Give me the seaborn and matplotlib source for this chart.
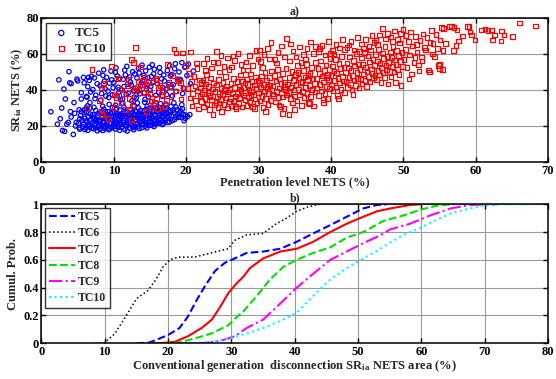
import numpy as np
import matplotlib
matplotlib.use("Agg")
import matplotlib.pyplot as plt
import seaborn as sns

# ---- a) scatter: penetration level NETS (%) vs SR_ia NETS (%) ----
tc5_pts = [
    (1.3, 27.9), (2.2, 21.0), (2.4, 45.6), (2.6, 24.0), (2.8, 30.0), (2.9, 17.5), (3.1, 40.5), (3.2, 17.0),
    (3.3, 35.0), (3.5, 21.0), (3.7, 22.0), (3.8, 50.2), (3.9, 44.0), (4.1, 43.5), (4.4, 15.3), (4.1, 25.0),
    (4.0, 28.0), (4.5, 33.0), (4.6, 27.0), (4.7, 20.0), (4.8, 22.0), (4.9, 46.0), (5.0, 45.0), (5.2, 19.0),
    (5.3, 24.0), (5.5, 28.0), (5.5, 35.0), (5.8, 47.0), (5.9, 29.0), (6.0, 18.0), (6.2, 30.0), (6.3, 36.0),
    (6.4, 20.0), (6.5, 47.0), (6.7, 33.0),
    (5.1, 21.5), (5.3, 18.2), (5.4, 25.8), (5.6, 23.1), (5.7, 19.6), (5.9, 27.4), (5.2, 29.0), (5.8, 21.0),
    (5.5, 38.5), (5.9, 44.0),
    (6.0, 24.2), (6.1, 19.0), (6.2, 27.7), (6.3, 22.4), (6.4, 17.6), (6.5, 25.1), (6.6, 20.8), (6.7, 29.9),
    (6.8, 23.5), (6.9, 18.9), (6.35, 31.2), (6.2, 36.4), (6.4, 41.8), (6.6, 45.3), (6.8, 38.9), (6.9, 47.6),
    (7.0, 21.7), (7.1, 26.3), (7.2, 18.4), (7.3, 24.0), (7.4, 20.2), (7.5, 28.6), (7.6, 22.9), (7.7, 17.3),
    (7.8, 25.7), (7.9, 19.8), (7.25, 30.4), (7.65, 23.7), (7.1, 40.2), (7.3, 46.7), (7.5, 37.1), (7.7, 43.5),
    (7.9, 49.3), (7.4, 35.2),
    (8.0, 22.5), (8.1, 18.1), (8.2, 27.2), (8.3, 20.6), (8.4, 24.8), (8.5, 17.5), (8.6, 29.3), (8.7, 21.9),
    (8.8, 26.0), (8.9, 19.4), (8.15, 23.3), (8.45, 31.0), (8.75, 18.6), (8.95, 24.1), (8.1, 42.3), (8.3, 38.0),
    (8.5, 48.1), (8.7, 44.9), (8.9, 36.6), (8.6, 51.2), (8.2, 34.4), (8.8, 40.7),
    (9.0, 25.4), (9.1, 20.1), (9.2, 28.0), (9.3, 17.9), (9.4, 23.6), (9.5, 21.2), (9.6, 26.9), (9.7, 19.1),
    (9.8, 30.2), (9.9, 22.7), (9.15, 24.5), (9.45, 18.5), (9.75, 25.0), (9.35, 32.0), (9.0, 47.0), (9.2, 39.4),
    (9.4, 43.8), (9.6, 50.5), (9.8, 37.3), (9.3, 35.8), (9.7, 45.6), (9.9, 41.2),
    (10.0, 21.4), (10.1, 27.6), (10.2, 18.3), (10.3, 24.9), (10.4, 29.7), (10.5, 20.5), (10.6, 23.0),
    (10.7, 26.2), (10.8, 17.6), (10.9, 22.1), (10.25, 31.5), (10.55, 25.6), (10.85, 28.8), (10.15, 19.7),
    (10.0, 44.1), (10.2, 49.8), (10.4, 36.9), (10.6, 41.5), (10.8, 46.4), (10.3, 52.3), (10.7, 38.8),
    (10.9, 34.6), (10.5, 47.7),
    (11.0, 24.3), (11.1, 19.2), (11.2, 27.0), (11.3, 22.0), (11.4, 30.4), (11.5, 18.0), (11.6, 25.5),
    (11.7, 21.1), (11.8, 28.2), (11.9, 23.4), (11.25, 32.6), (11.55, 20.3), (11.85, 17.2), (11.45, 26.6),
    (11.1, 40.0), (11.3, 45.9), (11.5, 51.0), (11.7, 37.6), (11.9, 43.2), (11.2, 35.0), (11.6, 48.4),
    (11.8, 53.1), (11.4, 41.9),
    (12.0, 21.8), (12.1, 26.4), (12.2, 18.8), (12.3, 29.1), (12.4, 23.8), (12.5, 20.0), (12.6, 27.7),
    (12.7, 24.6), (12.8, 31.3), (12.9, 19.5), (12.15, 22.9), (12.45, 25.2), (12.75, 17.9), (12.95, 28.4),
    (12.0, 38.2), (12.2, 47.2), (12.4, 42.7), (12.6, 50.1), (12.8, 36.0), (12.3, 44.4), (12.7, 39.7),
    (12.9, 48.9), (12.5, 33.9),
    (13.0, 23.1), (13.1, 27.9), (13.2, 20.7), (13.3, 25.8), (13.4, 30.0), (13.5, 18.6), (13.6, 22.4),
    (13.7, 28.7), (13.8, 24.2), (13.9, 21.3), (13.25, 32.8), (13.55, 26.1), (13.85, 19.0), (13.45, 23.9),
    (13.0, 41.0), (13.2, 46.6), (13.4, 52.0), (13.6, 37.9), (13.8, 44.0), (13.1, 35.5), (13.5, 49.4),
    (13.7, 42.2), (13.9, 53.8), (13.3, 39.1),
    (14.0, 25.0), (14.1, 21.0), (14.2, 28.5), (14.3, 19.8), (14.4, 26.7), (14.5, 23.2), (14.6, 30.8),
    (14.7, 20.4), (14.8, 27.3), (14.9, 24.4), (14.25, 33.2), (14.55, 18.9), (14.85, 29.6), (14.15, 22.6),
    (14.0, 45.2), (14.2, 38.4), (14.4, 50.6), (14.6, 43.0), (14.8, 36.2), (14.1, 48.0), (14.5, 40.6),
    (14.9, 52.7), (14.3, 34.8), (14.7, 46.9),
    (15.0, 26.5), (15.1, 22.2), (15.2, 29.4), (15.3, 24.0), (15.4, 20.6), (15.5, 27.8), (15.6, 31.6),
    (15.7, 23.5), (15.8, 25.9), (15.9, 21.6), (15.25, 33.5), (15.55, 19.7), (15.85, 28.9),
    (15.0, 39.8), (15.2, 47.5), (15.4, 44.3), (15.6, 51.5), (15.8, 37.0), (15.1, 42.0), (15.5, 49.0),
    (15.9, 45.4), (15.3, 54.0),
    (16.0, 24.7), (16.1, 28.1), (16.2, 21.5), (16.3, 30.3), (16.4, 26.2), (16.5, 23.3), (16.6, 29.0),
    (16.7, 20.8), (16.8, 27.4), (16.9, 25.3), (16.45, 32.4), (16.75, 22.5),
    (16.0, 43.6), (16.2, 38.6), (16.4, 49.7), (16.6, 46.2), (16.8, 41.3), (16.3, 52.4), (16.7, 36.5),
    (16.9, 48.3),
    (17.0, 26.8), (17.1, 23.0), (17.3, 29.8), (17.4, 25.1), (17.6, 27.9), (17.7, 22.2), (17.9, 30.9),
    (17.5, 24.3), (17.2, 32.2), (17.0, 45.0), (17.2, 40.4), (17.4, 50.8), (17.6, 43.1), (17.8, 47.9),
    (17.3, 37.4), (17.7, 53.5), (17.9, 41.7),
    (18.0, 25.6), (18.2, 28.7), (18.4, 23.6), (18.6, 30.5), (18.8, 26.4), (18.3, 32.9), (18.9, 24.8),
    (18.0, 48.6), (18.2, 42.9), (18.4, 51.8), (18.6, 39.2), (18.8, 46.0), (18.1, 36.8), (18.5, 54.6),
    (18.9, 44.6),
    (19.1, 27.2), (19.3, 24.9), (19.5, 29.5), (19.7, 22.9), (19.9, 26.0), (20.2, 25.2), (20.5, 26.3),
    (19.4, 31.8), (19.0, 50.0), (19.2, 45.8), (19.4, 55.2), (19.6, 41.0), (19.8, 52.6), (20.1, 48.0),
    (20.3, 54.4), (19.5, 38.0), (20.6, 43.5), (21.0, 50.5),
    # densest part of the lower band
    (6.05, 22.8), (6.55, 19.5), (6.75, 26.6), (7.05, 24.9), (7.35, 21.3), (7.55, 19.0), (7.85, 27.0),
    (7.95, 23.0), (8.05, 20.0), (8.35, 25.6), (8.55, 22.2), (8.65, 19.9), (8.85, 28.0), (9.05, 21.9),
    (9.25, 26.2), (9.55, 23.9), (9.65, 19.5), (9.85, 27.5), (9.95, 20.6), (10.05, 24.0), (10.35, 21.9),
    (10.45, 27.0), (10.65, 19.2), (10.75, 23.5), (10.95, 26.0), (11.05, 20.9), (11.15, 25.0),
    (11.35, 23.1), (11.65, 27.3), (11.75, 19.9), (11.95, 25.9), (12.05, 24.3), (12.25, 21.0),
    (12.35, 26.9), (12.55, 22.6), (12.65, 19.0), (12.85, 25.9), (13.05, 21.2), (13.15, 24.7),
    (13.35, 19.7), (13.65, 27.0), (13.75, 22.9), (13.95, 26.4), (14.05, 23.6), (14.35, 21.7),
    (14.45, 29.2), (14.65, 25.8), (14.75, 22.0), (14.95, 27.9), (15.05, 20.4), (15.15, 25.0),
    (15.35, 28.3), (15.45, 23.0), (15.65, 26.4), (15.75, 21.0), (15.95, 29.9), (16.05, 22.3),
    (16.15, 26.9), (16.35, 24.0), (16.55, 27.8), (16.65, 24.9), (16.85, 21.3), (16.95, 29.5),
    (17.05, 24.1), (17.25, 27.0), (17.45, 22.0), (17.65, 26.0), (17.85, 28.5), (18.1, 23.0),
    (18.35, 27.4), (18.5, 24.9), (18.7, 29.0), (19.0, 25.3), (19.25, 28.4), (19.6, 26.4), (19.85, 24.2),
]

tc10_pts = [
    (6.3, 29.8), (7.0, 51.5), (8.0, 34.0), (8.2, 28.3), (8.3, 26.5), (8.3, 41.2), (8.6, 43.8), (9.3, 24.2),
    (9.7, 53.0), (10.0, 37.2), (10.1, 30.4), (10.4, 35.8), (10.6, 46.5), (11.0, 33.2), (11.3, 37.9),
    (11.6, 29.1), (12.0, 45.8), (12.2, 35.4), (12.4, 23.3), (12.4, 56.8), (12.7, 55.4), (13.0, 63.6),
    (12.6, 31.0), (12.8, 39.6), (13.2, 41.1), (13.5, 40.0), (13.7, 52.8), (13.9, 43.2), (14.2, 47.1),
    (14.5, 28.2), (14.5, 42.5), (14.8, 44.3), (15.0, 38.1), (15.2, 30.3), (15.4, 45.2), (15.6, 33.0),
    (15.8, 46.4), (16.0, 29.5), (16.1, 41.3), (16.4, 42.6), (16.8, 39.0), (17.0, 30.6), (17.3, 34.2),
    (17.4, 54.3), (17.6, 44.1), (17.9, 36.3), (18.1, 48.0), (18.3, 62.7), (18.6, 60.5), (18.9, 45.1),
    (19.2, 44.0), (19.5, 60.6), (19.7, 41.2), (19.9, 53.6), (19.3, 35.0), (18.5, 39.5), (17.8, 42.0),
    (16.6, 37.5), (15.9, 35.2), (14.9, 33.9), (14.1, 38.7), (13.4, 44.7), (11.9, 42.1), (10.8, 40.6),
    (20.2, 40.8), (20.4, 49.2), (20.5, 35.5), (20.7, 44.6), (20.8, 31.2), (20.9, 38.0), (21.1, 47.5),
    (21.2, 42.3), (21.3, 34.0), (21.5, 51.8), (21.6, 39.4), (21.7, 29.5), (21.8, 45.6), (21.9, 36.7),
    (20.6, 61.0), (21.4, 55.0),
    (22.0, 41.2), (22.1, 33.5), (22.2, 37.8), (22.3, 45.1), (22.4, 30.6), (22.5, 39.9), (22.6, 35.3),
    (22.7, 43.4), (22.8, 48.7), (22.9, 32.1), (23.0, 38.6), (23.1, 41.9), (23.2, 29.0), (23.3, 36.0),
    (23.4, 46.6), (23.5, 34.4), (23.6, 40.5), (23.7, 26.3), (23.8, 43.9), (23.9, 31.7), (22.35, 54.8),
    (22.9, 57.5), (23.5, 52.3), (23.8, 55.6), (22.65, 50.9), (23.25, 37.2), (22.15, 44.0),
    (24.0, 39.3), (24.1, 33.0), (24.2, 42.8), (24.3, 36.5), (24.4, 30.1), (24.5, 45.7), (24.6, 38.1),
    (24.7, 34.8), (24.8, 41.0), (24.9, 28.2), (25.0, 37.4), (25.1, 44.2), (25.2, 31.9), (25.3, 39.8),
    (25.4, 47.5), (25.5, 35.6), (25.6, 42.3), (25.7, 30.0), (25.8, 38.9), (25.9, 33.6), (24.35, 55.2),
    (24.8, 59.0), (25.25, 53.0), (25.7, 57.8), (24.6, 50.0), (25.9, 51.4), (24.15, 61.5), (25.45, 40.6),
    (24.55, 32.7),
    (26.0, 40.1), (26.1, 35.2), (26.2, 43.6), (26.3, 31.0), (26.4, 38.4), (26.5, 46.3), (26.6, 33.9),
    (26.7, 41.5), (26.8, 36.6), (26.9, 29.8), (27.0, 44.8), (27.1, 38.0), (27.2, 32.4), (27.3, 42.0),
    (27.4, 35.9), (27.5, 48.3), (27.6, 39.6), (27.7, 30.6), (27.8, 45.0), (27.9, 37.1), (26.25, 52.8),
    (26.7, 56.4), (27.15, 60.1), (27.6, 54.0), (26.45, 58.9), (27.85, 51.2), (26.85, 30.8), (27.35, 40.5),
    (28.0, 41.4), (28.1, 34.5), (28.2, 38.7), (28.3, 46.0), (28.4, 31.4), (28.5, 43.1), (28.6, 36.2),
    (28.7, 40.0), (28.8, 33.0), (28.9, 48.9), (29.0, 39.1), (29.1, 44.6), (29.2, 30.8), (29.3, 37.6),
    (29.4, 42.7), (29.5, 35.0), (29.6, 47.2), (29.7, 40.8), (29.8, 32.7), (29.9, 45.3), (28.25, 55.5),
    (28.75, 59.2), (29.2, 53.7), (29.65, 62.0), (28.5, 51.0), (29.95, 57.3), (28.95, 36.8), (29.45, 29.6),
    (28.15, 43.8),
    (30.0, 38.3), (30.1, 44.0), (30.2, 33.8), (30.3, 41.6), (30.4, 47.8), (30.5, 36.4), (30.6, 30.2),
    (30.7, 43.0), (30.8, 39.5), (30.9, 49.6), (31.0, 35.1), (31.1, 45.5), (31.2, 40.7), (31.3, 32.0),
    (31.4, 38.0), (31.5, 46.9), (31.6, 42.4), (31.7, 34.3), (31.8, 50.5), (31.9, 37.7), (30.3, 55.8),
    (30.75, 59.7), (31.25, 63.0), (31.7, 66.4), (30.55, 52.6), (31.5, 57.1), (30.95, 28.0), (31.15, 41.8),
    (30.15, 62.2),
    (32.0, 42.1), (32.1, 36.9), (32.2, 48.0), (32.3, 33.4), (32.4, 44.9), (32.5, 39.2), (32.6, 51.3),
    (32.7, 35.7), (32.8, 41.0), (32.9, 46.2), (33.0, 30.9), (33.1, 43.7), (33.2, 38.4), (33.3, 49.1),
    (33.4, 36.0), (33.5, 29.7), (33.6, 44.5), (33.7, 40.3), (33.8, 52.0), (33.9, 37.3), (32.25, 57.0),
    (32.7, 60.8), (33.15, 64.5), (33.6, 58.3), (33.9, 68.7), (32.5, 54.9), (33.35, 26.8), (32.85, 31.6),
    (33.55, 41.9),
    (34.0, 43.3), (34.1, 38.6), (34.2, 26.5), (34.3, 47.0), (34.4, 35.4), (34.5, 41.7), (34.6, 50.2),
    (34.7, 32.8), (34.8, 45.4), (34.9, 39.9), (35.0, 36.7), (35.1, 48.5), (35.2, 42.9), (35.3, 33.9),
    (35.4, 53.6), (35.5, 40.1), (35.6, 46.6), (35.7, 37.2), (35.8, 44.0), (35.9, 31.5), (34.25, 56.0),
    (34.75, 61.7), (35.2, 58.4), (35.65, 63.9), (34.45, 65.5), (35.85, 55.1), (34.95, 29.3), (35.45, 49.8),
    (36.0, 44.7), (36.1, 39.0), (36.2, 50.9), (36.3, 35.8), (36.4, 47.3), (36.5, 41.4), (36.6, 54.2),
    (36.7, 37.9), (36.8, 45.9), (36.9, 33.2), (37.0, 42.6), (37.1, 49.0), (37.2, 36.3), (37.3, 52.4),
    (37.4, 40.4), (37.5, 46.1), (37.6, 31.0), (37.7, 43.5), (37.8, 38.8), (37.9, 55.3), (36.25, 59.6),
    (36.7, 63.0), (37.15, 66.6), (37.6, 60.4), (36.45, 57.2), (37.85, 64.1), (37.05, 32.5), (36.85, 48.2),
    (38.0, 46.4), (38.1, 41.1), (38.2, 52.0), (38.3, 37.0), (38.4, 49.3), (38.5, 43.2), (38.6, 56.1),
    (38.7, 39.5), (38.8, 47.7), (38.9, 34.6), (39.0, 44.4), (39.1, 50.7), (39.2, 38.2), (39.3, 53.8),
    (39.4, 42.0), (39.5, 48.5), (39.6, 35.3), (39.7, 45.6), (39.8, 40.8), (39.9, 57.4), (38.25, 61.3),
    (38.75, 64.8), (39.2, 59.5), (39.65, 67.0), (38.45, 62.9), (39.95, 60.1), (38.95, 33.0), (39.35, 47.0),
    (40.0, 48.2), (40.1, 42.7), (40.2, 53.3), (40.3, 39.4), (40.4, 50.6), (40.5, 45.1), (40.6, 57.0),
    (40.7, 41.6), (40.8, 49.4), (40.9, 36.8), (41.0, 46.3), (41.1, 54.8), (41.2, 43.8), (41.3, 51.9),
    (41.4, 40.2), (41.5, 58.7), (41.6, 47.4), (41.7, 44.9), (41.8, 52.6), (41.9, 38.5), (40.25, 61.8),
    (40.7, 65.2), (41.15, 63.3), (41.6, 67.9), (40.45, 60.0), (41.85, 62.5), (41.05, 35.2),
    (42.0, 49.8), (42.1, 44.6), (42.2, 55.0), (42.3, 41.3), (42.4, 52.2), (42.5, 47.0), (42.6, 58.4),
    (42.7, 43.1), (42.8, 50.9), (42.9, 39.9), (43.0, 48.1), (43.1, 56.3), (43.2, 45.5), (43.3, 53.4),
    (43.4, 42.4), (43.5, 60.2), (43.6, 49.6), (43.7, 46.3), (43.8, 54.5), (43.9, 41.0), (42.25, 63.7),
    (42.75, 66.8), (43.2, 62.1), (43.65, 69.2), (42.5, 64.9), (43.95, 61.4), (43.05, 37.6),
    (44.0, 51.4), (44.1, 46.0), (44.2, 57.7), (44.3, 43.4), (44.4, 54.0), (44.5, 48.8), (44.6, 60.9),
    (44.7, 45.2), (44.8, 52.8), (44.9, 42.0), (45.0, 50.0), (45.1, 58.9), (45.2, 47.6), (45.3, 55.6),
    (45.4, 44.5), (45.5, 62.3), (45.6, 51.7), (45.7, 49.1), (45.8, 56.8), (45.9, 46.9), (44.25, 65.6),
    (44.75, 68.0), (45.25, 64.2), (45.7, 70.3), (44.5, 63.0), (45.95, 66.5),
    (46.0, 53.5), (46.1, 47.9), (46.2, 59.6), (46.3, 45.7), (46.4, 56.0), (46.5, 50.8), (46.6, 62.6),
    (46.7, 48.4), (46.8, 54.9), (46.9, 44.1), (47.0, 52.1), (47.1, 60.5), (47.2, 49.7), (47.3, 57.5),
    (47.4, 46.8), (47.5, 64.0), (47.6, 53.9), (47.7, 51.2), (47.8, 58.6), (47.9, 43.3), (46.25, 67.5),
    (46.7, 70.6), (47.1, 74.2), (47.55, 68.4), (46.45, 65.1), (47.85, 71.5),
    (48.0, 55.3), (48.1, 50.2), (48.2, 61.2), (48.3, 47.3), (48.4, 58.0), (48.5, 52.9), (48.6, 64.3),
    (48.7, 49.9), (48.8, 56.7), (48.9, 44.0), (49.0, 54.0), (49.1, 62.0), (49.2, 51.5), (49.3, 59.1),
    (49.4, 48.6), (49.5, 66.0), (49.6, 55.8), (49.7, 42.5), (49.8, 60.7), (49.9, 53.0), (48.3, 69.5),
    (48.75, 72.8), (49.2, 68.1), (49.6, 71.3), (48.5, 67.0), (49.95, 73.6),
    (50.1, 57.0), (50.3, 62.6), (50.5, 52.4), (50.7, 66.8), (50.9, 59.4), (51.1, 48.9), (51.3, 64.4),
    (51.5, 55.2), (51.7, 69.7), (51.9, 61.0), (52.1, 53.8), (52.3, 67.4), (52.5, 58.3), (52.7, 71.0),
    (52.9, 63.5), (50.4, 70.2), (51.0, 72.3), (51.6, 57.9), (52.2, 50.6), (52.6, 56.0), (50.8, 46.0),
    (51.8, 65.1),
    (53.1, 62.1), (53.3, 69.0), (53.5, 51.0), (53.6, 50.0), (53.9, 72.9), (54.1, 65.8), (54.3, 58.6),
    (54.5, 70.8), (54.7, 63.2), (54.9, 53.6), (55.0, 52.0), (55.1, 67.7), (55.3, 74.6), (55.6, 74.2),
    (55.8, 65.9), (54.0, 60.0), (53.7, 66.3), (55.5, 61.8), (55.0, 54.5), (55.4, 51.5),
    (56.4, 75.2), (56.7, 75.6), (56.9, 62.0), (57.0, 74.6), (57.4, 73.4), (57.6, 67.2), (58.2, 70.0),
    (58.9, 75.2), (59.1, 75.1), (59.2, 72.3), (59.4, 70.5), (59.9, 67.7), (57.3, 64.7),
    (60.8, 73.3), (61.3, 73.8), (61.7, 73.0), (62.2, 73.3), (62.3, 67.8), (62.6, 70.5), (63.6, 72.8),
    (63.9, 70.5), (63.5, 67.3), (65.1, 69.8), (66.1, 77.2), (68.3, 75.6),
]

# ---- b) cumulative probability of conventional generation disconnection ----
tc5_cdf_x = [15.0, 17.0, 18.4, 20.0, 21.8, 23.1, 24.5, 25.8, 27.4, 29.0, 30.5, 32.4, 35.0, 37.7, 40.3,
             42.9, 45.6, 48.2, 50.8, 53.0, 54.5]
tc5_cdf_p = [0, 0.005, 0.03, 0.06, 0.11, 0.19, 0.31, 0.41, 0.52, 0.58, 0.61, 0.65, 0.66, 0.68, 0.73,
             0.79, 0.85, 0.91, 0.97, 0.995, 1.0]
tc6_cdf_x = [8.5, 10.0, 11.6, 13.4, 15.0, 16.8, 18.1, 19.2, 20.3, 21.6, 24.2, 26.8, 29.5, 30.5, 32.4,
             35.0, 37.1, 38.7, 40.3, 42.0, 44.0]
tc6_cdf_p = [0, 0.005, 0.07, 0.2, 0.32, 0.38, 0.46, 0.55, 0.60, 0.62, 0.62, 0.65, 0.68, 0.74, 0.78,
             0.79, 0.86, 0.90, 0.95, 0.98, 1.0]
tc7_cdf_x = [17.0, 19.0, 21.0, 23.1, 25.3, 26.9, 28.2, 29.5, 30.8, 31.9, 32.9, 35.0, 37.7, 40.3, 42.9,
             45.6, 48.2, 50.8, 53.0, 55.1, 58.2, 60.0]
tc7_cdf_p = [0, 0.002, 0.01, 0.05, 0.11, 0.17, 0.26, 0.36, 0.43, 0.48, 0.54, 0.61, 0.66, 0.68, 0.73,
             0.80, 0.86, 0.91, 0.95, 0.97, 0.995, 1.0]
tc8_cdf_x = [19.2, 21.6, 24.2, 26.8, 29.5, 31.1, 31.9, 34.0, 36.1, 38.2, 40.3, 42.9, 45.6, 48.2, 50.8,
             53.2, 54.0, 57.2, 59.8, 62.4, 65.0]
tc8_cdf_p = [0, 0.005, 0.035, 0.07, 0.13, 0.2, 0.23, 0.34, 0.46, 0.55, 0.60, 0.65, 0.69, 0.76, 0.80,
             0.86, 0.88, 0.92, 0.96, 0.99, 1.0]
tc9_cdf_x = [21.5, 25.8, 28.4, 30.5, 32.4, 35.0, 37.1, 40.3, 42.9, 45.6, 48.2, 50.8, 53.2, 55.1, 58.2,
             61.4, 64.6, 67.7, 70.0, 72.0]
tc9_cdf_p = [0, 0.002, 0.02, 0.05, 0.11, 0.17, 0.26, 0.40, 0.50, 0.60, 0.66, 0.72, 0.77, 0.82, 0.86,
             0.92, 0.97, 0.995, 0.999, 1.0]
tc10_cdf_x = [23.0, 27.0, 29.7, 32.4, 35.0, 37.7, 40.3, 42.9, 45.6, 48.2, 50.8, 53.2, 54.5, 57.2, 59.8,
              62.4, 65.0, 67.7, 70.4, 72.5, 77.7]
tc10_cdf_p = [0, 0.01, 0.035, 0.07, 0.11, 0.16, 0.22, 0.34, 0.46, 0.54, 0.61, 0.67, 0.71, 0.78, 0.83,
              0.89, 0.94, 0.97, 0.995, 1.0, 1.0]

# ---- style (MATLAB-like figure) ----
sns.set_theme(style="ticks")
plt.rcParams['font.family'] = ['Liberation Serif', 'DejaVu Serif']
plt.rcParams['font.weight'] = 'bold'
plt.rcParams['axes.labelweight'] = 'bold'
plt.rcParams['mathtext.fontset'] = 'custom'
plt.rcParams['mathtext.rm'] = 'Liberation Serif:bold'
plt.rcParams['mathtext.it'] = 'Liberation Serif:bold'
plt.rcParams['mathtext.bf'] = 'Liberation Serif:bold'


def style_axes(ax):
    ax.grid(True, color='#9a9a9a', linewidth=0.8, linestyle='-')
    ax.set_axisbelow(True)
    for sp in ax.spines.values():
        sp.set_visible(True)
        sp.set_color('black')
        sp.set_linewidth(1.1)
    ax.tick_params(direction='in', length=3.5, width=1.0, top=True, right=True,
                   labelsize=9, colors='black', pad=2)
    for lab in ax.get_xticklabels() + ax.get_yticklabels():
        lab.set_fontweight('bold')


fig = plt.figure(figsize=(5.56, 3.79), dpi=100)
ax1 = fig.add_axes([0.0746, 0.5726, 0.911, 0.38])
ax2 = fig.add_axes([0.0746, 0.0942, 0.911, 0.3668])

tc5 = np.array(tc5_pts)
tc10 = np.array(tc10_pts)
sns.scatterplot(x=tc5[:, 0], y=tc5[:, 1], ax=ax1, marker='o', s=10, facecolors='none',
                edgecolor='#0000ff', linewidth=0.9, label='TC5')
sns.scatterplot(x=tc10[:, 0], y=tc10[:, 1], ax=ax1, marker='s', s=11, facecolors='none',
                edgecolor='#ff0000', linewidth=0.9, label='TC10')
ax1.set_xlim(0, 70)
ax1.set_ylim(0, 80)
ax1.set_xticks(range(0, 71, 10))
ax1.set_yticks(range(0, 81, 20))
style_axes(ax1)
ax1.set_title('a)', fontsize=8.5, fontweight='bold', pad=2)
ax1.set_xlabel('Penetration level NETS (%)', fontsize=9, labelpad=0)
ax1.set_ylabel('SR$_{\\rm ia}$ NETS (%)', fontsize=9, labelpad=1)
leg1 = ax1.legend(loc='upper left', fontsize=9.5, frameon=True, fancybox=False, edgecolor='black',
                  handletextpad=0.2, labelspacing=0.25, borderpad=0.35, borderaxespad=0.35,
                  handlelength=1.6, markerscale=1.2)
leg1.get_frame().set_linewidth(1.0)
for t in leg1.get_texts():
    t.set_fontweight('bold')

cdf_series = [
    ('TC5', tc5_cdf_x, tc5_cdf_p, '#0000ff', '--', 1.5),
    ('TC6', tc6_cdf_x, tc6_cdf_p, '#000000', ':', 1.1),
    ('TC7', tc7_cdf_x, tc7_cdf_p, '#ff0000', '-', 1.5),
    ('TC8', tc8_cdf_x, tc8_cdf_p, '#00e000', '--', 1.5),
    ('TC9', tc9_cdf_x, tc9_cdf_p, '#ff00ff', '-.', 1.5),
    ('TC10', tc10_cdf_x, tc10_cdf_p, '#00ffff', ':', 1.5),
]
for name, xs, ps, col, ls, lw in cdf_series:
    sns.lineplot(x=xs, y=ps, ax=ax2, color=col, linestyle=ls, linewidth=lw, label=name,
                 estimator=None, sort=False)
ax2.set_xlim(0, 80)
ax2.set_ylim(0, 1)
ax2.set_xticks(range(0, 81, 10))
ax2.set_yticks([0, 0.2, 0.4, 0.6, 0.8, 1])
ax2.set_yticklabels(['0', '0.2', '0.4', '0.6', '0.8', '1'])
style_axes(ax2)
ax2.set_title('b)', fontsize=8.5, fontweight='bold', pad=2)
ax2.set_xlabel('Conventional generation  disconnection SR$_{\\rm ia}$ NETS area (%)', fontsize=9,
               labelpad=0)
ax2.set_ylabel('Cumul. Prob.', fontsize=9, labelpad=3)
leg2 = ax2.legend(loc='upper left', fontsize=8.5, frameon=True, fancybox=False, edgecolor='black',
                  handletextpad=0.3, labelspacing=0.35, borderpad=0.3, borderaxespad=0.3,
                  handlelength=2.2)
leg2.get_frame().set_linewidth(1.0)
for t in leg2.get_texts():
    t.set_fontweight('bold')

fig.savefig('out.png', dpi=100)
plt.close(fig)
